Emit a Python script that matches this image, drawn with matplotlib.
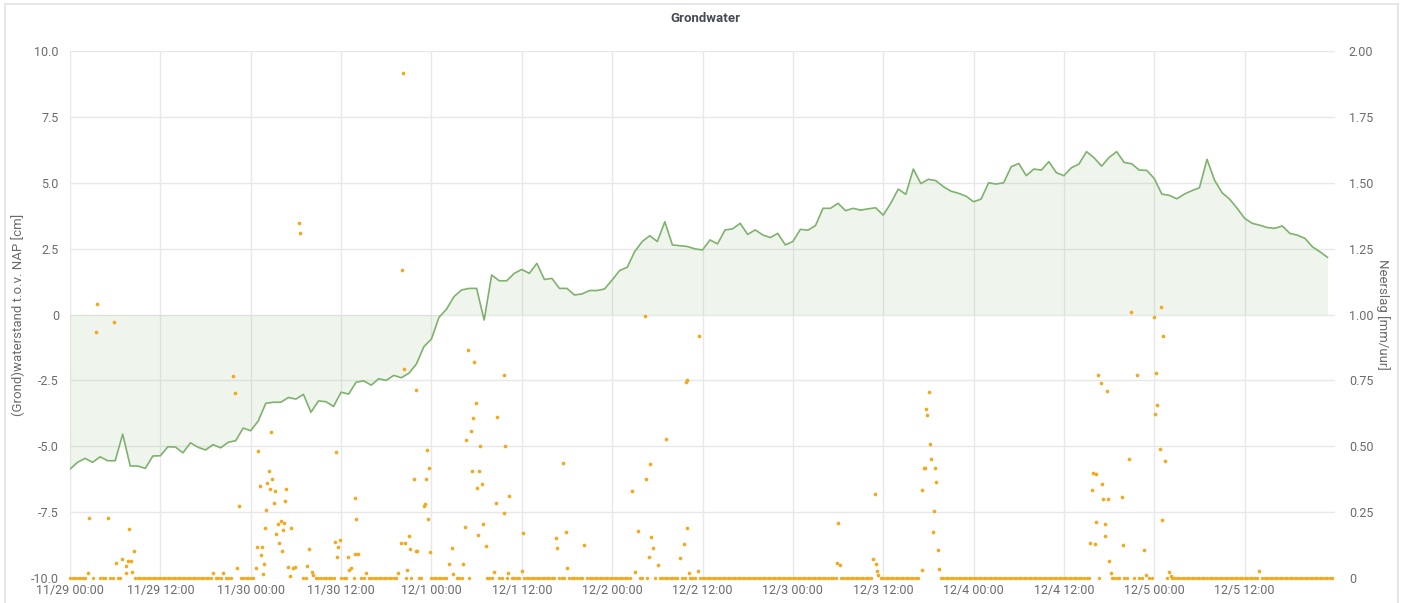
import numpy as np
import matplotlib
matplotlib.use("Agg")
import matplotlib.pyplot as plt
from matplotlib.lines import Line2D

plt.rcParams['font.family'] = ['Roboto', 'DejaVu Sans']

# groundwater level, hourly from 11/29 00:00 (cm t.o.v. NAP)
level_cm = [
    -5.87, -5.61, -5.46, -5.61, -5.40, -5.55, -5.55, -4.54, -5.75, -5.75,
    -5.84, -5.37, -5.36, -5.02, -5.03, -5.25, -4.87, -5.04, -5.14, -4.94,
    -5.06, -4.85, -4.79, -4.31, -4.41, -4.04, -3.37, -3.33, -3.33, -3.15,
    -3.21, -3.03, -3.71, -3.28, -3.31, -3.49, -2.95, -3.02, -2.57, -2.52,
    -2.68, -2.44, -2.50, -2.31, -2.40, -2.23, -1.88, -1.22, -0.93, -0.11,
    0.20, 0.68, 0.93, 0.99, 0.99, -0.21, 1.50, 1.28, 1.28, 1.56,
    1.71, 1.56, 1.94, 1.33, 1.37, 0.99, 0.99, 0.74, 0.78, 0.91,
    0.91, 0.97, 1.31, 1.67, 1.79, 2.39, 2.77, 2.99, 2.77, 3.52,
    2.64, 2.61, 2.58, 2.49, 2.45, 2.83, 2.68, 3.21, 3.25, 3.46,
    3.04, 3.21, 3.02, 2.92, 3.08, 2.64, 2.77, 3.23, 3.20, 3.37,
    4.03, 4.03, 4.22, 3.94, 4.03, 3.96, 4.01, 4.05, 3.77, 4.22,
    4.76, 4.56, 5.52, 4.97, 5.13, 5.08, 4.85, 4.68, 4.60, 4.49,
    4.28, 4.38, 5.00, 4.95, 5.00, 5.61, 5.73, 5.27, 5.52, 5.48,
    5.80, 5.38, 5.27, 5.57, 5.71, 6.18, 5.95, 5.63, 5.96, 6.18,
    5.77, 5.72, 5.48, 5.47, 5.16, 4.57, 4.52, 4.39, 4.57, 4.70,
    4.81, 5.89, 5.10, 4.62, 4.38, 4.03, 3.65, 3.46, 3.39, 3.30,
    3.27, 3.36, 3.08, 3.01, 2.89, 2.57, 2.38, 2.17,
]
level_h = np.arange(len(level_cm))

# rainfall readings above zero: hours since 11/29 00:00, mm/uur
rain_h = [
    2.35, 2.57, 3.4, 3.55, 5.0, 5.9, 6.1, 6.9, 7.4, 7.45, 7.75, 7.9, 8.05, 8.3, 8.5,
    19.05, 20.3, 21.7, 21.9, 22.2, 22.4, 24.7, 24.9, 25.0, 25.25, 25.4, 25.5, 25.6,
    25.7, 25.9, 26.0, 26.2, 26.4, 26.6, 26.7, 26.8, 27.1, 27.2, 27.4, 27.6, 27.8,
    28.0, 28.2, 28.3, 28.4, 28.6, 28.7, 28.9, 29.2, 29.4, 29.6, 29.9, 30.4, 30.6,
    31.5, 31.7, 32.1, 32.3, 35.2, 35.3, 35.5, 35.6, 35.8, 36.9, 37.1, 37.3, 37.8,
    37.9, 38.0, 38.3, 39.3, 43.6, 43.9, 44.1, 44.2, 44.4, 44.5, 44.8, 45.0, 45.2,
    45.7, 45.9, 46.0, 46.1, 47.0, 47.1, 47.3, 47.4, 47.5, 47.7, 47.8, 50.4, 50.7,
    50.9, 52.2, 52.4, 52.6, 52.8, 53.2, 53.4, 53.5, 53.7, 53.9, 54.0, 54.2, 54.35,
    54.5, 54.7, 54.9, 55.2, 56.3, 56.6, 56.7, 57.6, 57.7, 57.8, 58.2, 58.3, 60.0,
    60.2, 64.6, 64.7, 65.5, 65.9, 66.0, 68.3, 74.6, 75.0, 75.4, 76.4, 76.5, 76.9,
    77.0, 77.2, 77.4, 78.1, 79.2, 81.0, 81.5, 81.8, 81.9, 82.0, 82.2, 83.4, 83.5,
    101.8, 102.0, 102.2, 106.7, 106.9, 107.1, 107.2, 107.3, 113.1, 113.2, 113.4,
    113.5, 113.7, 113.8, 114.1, 114.2, 114.4, 114.6, 114.7, 114.9, 115.0, 115.3,
    115.4, 135.5, 135.7, 135.8, 136.1, 136.2, 136.3, 136.5, 136.9, 137.0, 137.2,
    137.4, 137.5, 137.7, 137.9, 138.0, 138.2, 139.7, 139.8, 140.7, 140.9, 141.7,
    142.7, 142.9, 143.9, 144.1, 144.2, 144.4, 144.7, 144.9, 145.0, 145.2, 145.4,
    146.0, 146.2, 157.9,
]
rain_mm = [
    0.018, 0.229, 0.932, 1.039, 0.226, 0.973, 0.056, 0.071, 0.047, 0.018, 0.065, 0.185, 0.065, 0.024, 0.102,
    0.018, 0.018, 0.768, 0.703, 0.037, 0.274, 0.037, 0.119, 0.483, 0.349, 0.087, 0.119, 0.016,
    0.053, 0.189, 0.258, 0.362, 0.406, 0.338, 0.554, 0.376, 0.283, 0.331, 0.166, 0.204, 0.134,
    0.216, 0.104, 0.182, 0.210, 0.293, 0.338, 0.043, 0.008, 0.191, 0.037, 0.043, 1.347, 1.308,
    0.047, 0.109, 0.024, 0.013, 0.135, 0.479, 0.081, 0.119, 0.144, 0.079, 0.030, 0.037, 0.090,
    0.302, 0.224, 0.090, 0.019, 0.019, 0.132, 1.169, 1.917, 0.793, 0.132, 0.032, 0.161, 0.109,
    0.376, 0.713, 0.104, 0.102, 0.274, 0.280, 0.374, 0.486, 0.224, 0.419, 0.098, 0.052, 0.115,
    0.016, 0.052, 0.192, 0.524, 0.865, 0.558, 0.406, 0.608, 0.818, 0.665, 0.340, 0.163, 0.406,
    0.502, 0.356, 0.204, 0.121, 0.024, 0.283, 0.612, 0.770, 0.248, 0.502, 0.020, 0.312, 0.027,
    0.172, 0.153, 0.113, 0.438, 0.173, 0.037, 0.125, 0.331, 0.024, 0.178, 0.994, 0.376, 0.081,
    0.434, 0.156, 0.113, 0.049, 0.526, 0.077, 0.129, 0.745, 0.751, 0.190, 0.020, 0.028, 0.920,
    0.058, 0.209, 0.049, 0.071, 0.319, 0.052, 0.025, 0.013, 0.030, 0.334, 0.419,
    0.416, 0.641, 0.620, 0.707, 0.509, 0.452, 0.173, 0.254, 0.416, 0.364, 0.105,
    0.035, 0.132, 0.334, 0.400, 0.130, 0.214, 0.396, 0.769, 0.741, 0.358, 0.301,
    0.205, 0.161, 0.710, 0.299, 0.065, 0.018, 0.306, 0.125, 0.453, 1.008, 0.770,
    0.107, 0.013, 0.989, 0.624, 0.779, 0.655, 0.488, 1.030, 0.220, 0.920, 0.445,
    0.024, 0.008, 0.027,
]
rain_step_min = 20  # sample interval of the rain gauge

x_tick_labels = ["11/29 00:00", "11/29 12:00", "11/30 00:00", "11/30 12:00",
                 "12/1 00:00", "12/1 12:00", "12/2 00:00", "12/2 12:00",
                 "12/3 00:00", "12/3 12:00", "12/4 00:00", "12/4 12:00",
                 "12/5 00:00", "12/5 12:00"]
left_ticks = [10.0, 7.5, 5.0, 2.5, 0, -2.5, -5.0, -7.5, -10.0]
left_labels = ["10.0", "7.5", "5.0", "2.5", "0", "-2.5", "-5.0", "-7.5", "-10.0"]
right_ticks = [2.0, 1.75, 1.5, 1.25, 1.0, 0.75, 0.5, 0.25, 0]
right_labels = ["2.00", "1.75", "1.50", "1.25", "1.00", "0.75", "0.50", "0.25", "0"]

# zero readings: every sample without a positive reading
grid_h = np.arange(0, 168, rain_step_min / 60)
rh = np.array(rain_h)
near = np.min(np.abs(grid_h[:, None] - rh[None, :]), axis=1) < 0.12
zero_h = grid_h[~near]

GREEN = "#7EB26D"
ORANGE = "#F2A91E"
TXT = "#6b6b6b"
GRID = "#e8e8e8"

fig = plt.figure(figsize=(14.02, 6.03), dpi=100)
ax = fig.add_axes([70 / 1402, 25 / 603, 1265 / 1402, 527 / 603])
ax2 = ax.twinx()

ax.fill_between(level_h, level_cm, 0, color=GREEN, alpha=0.12, linewidth=0)
ax.plot(level_h, level_cm, color=GREEN, lw=1.2)

ax2.scatter(zero_h, np.zeros_like(zero_h), s=6, color=ORANGE, linewidths=0, clip_on=False)
ax2.scatter(rain_h, rain_mm, s=7, color=ORANGE, linewidths=0, clip_on=False)

ax.set_xlim(0, 168)
ax.set_ylim(-10, 10)
ax2.set_ylim(0, 2)

ax.set_xticks(np.arange(0, 12 * len(x_tick_labels), 12))
ax.set_xticklabels(x_tick_labels)
ax.set_yticks(left_ticks)
ax.set_yticklabels(left_labels)
ax2.set_yticks(right_ticks)
ax2.set_yticklabels(right_labels)

for a in (ax, ax2):
    for s in a.spines.values():
        s.set_visible(False)
    a.tick_params(length=0, colors=TXT, labelsize=9)
ax.tick_params(axis='y', pad=8)
ax.tick_params(axis='x', pad=4)
ax2.tick_params(axis='y', pad=10)

ax.grid(True, color=GRID, lw=1)
ax.set_axisbelow(True)

ax.set_ylabel("(Grond)waterstand t.o.v. NAP [cm]", color=TXT, fontsize=9.5, labelpad=4)
ax2.set_ylabel("Neerslag [mm/uur]", color=TXT, fontsize=9.5, rotation=270, labelpad=12)

fig.text(0.503, 0.97, "Grondwater", ha="center", va="center", fontsize=9.5,
         fontweight="bold", color="#464c54")

# panel border
for xs, ys in [([5, 1398], [599, 599]), ([5, 5], [0, 599]), ([1398, 1398], [0, 599])]:
    fig.add_artist(Line2D(np.array(xs) / 1402, np.array(ys) / 603, color="#e3e3e6", lw=1.2))

fig.savefig("out.png", dpi=100)
